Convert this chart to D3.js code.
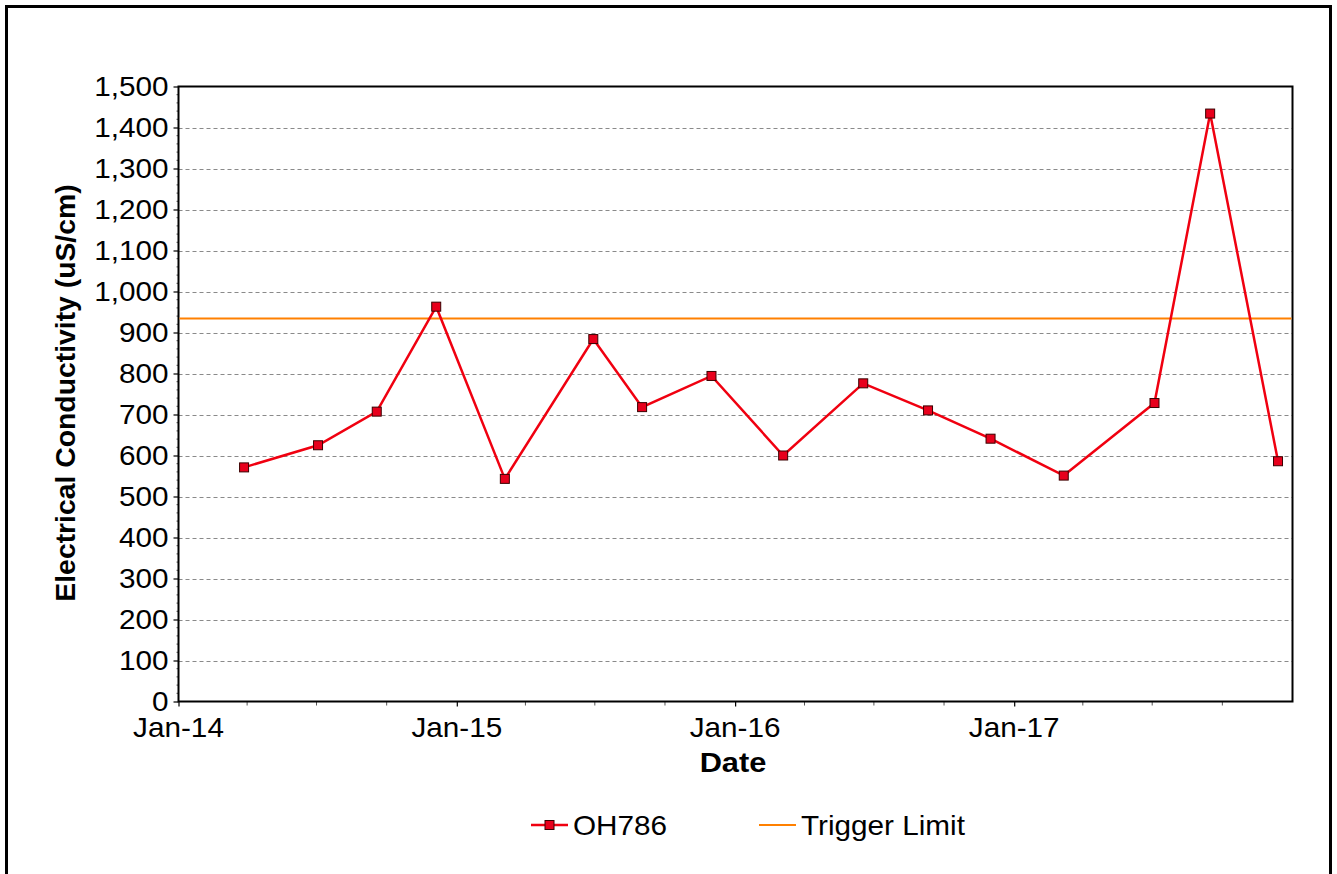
<!DOCTYPE html>
<html>
<head>
<meta charset="utf-8">
<script src="https://cdn.jsdelivr.net/npm/d3@7"></script>
<style>
  html, body { margin: 0; padding: 0; background: #fff; }
  svg { display: block; font-family: "Liberation Sans", Arial, sans-serif; }
</style>
</head>
<body>
<svg id="chart" width="1337" height="874"></svg>
<script>
// Sampling dates and electrical conductivity readings for bore OH786
const sampleDates = [
  "2014-03-28", "2014-07-03", "2014-09-18", "2014-12-05",
  "2015-03-05", "2015-06-29", "2015-09-01", "2015-12-01",
  "2016-03-04", "2016-06-17", "2016-09-10", "2016-12-01",
  "2017-03-07", "2017-07-04", "2017-09-15", "2017-12-13"
];
const conductivity = [571, 625, 707, 963, 543, 884, 718, 794, 600, 776, 710, 641, 551, 728, 1434, 586];
const triggerLimit = 934;

const yTicks = [0, 100, 200, 300, 400, 500, 600, 700, 800, 900, 1000, 1100, 1200, 1300, 1400, 1500];
const xTickLabels = ["Jan-14", "Jan-15", "Jan-16", "Jan-17"];
const seriesNames = ["OH786", "Trigger Limit"];

const parse = d3.timeParse("%Y-%m-%d");
const points = sampleDates.map((d, i) => ({ date: parse(d), value: conductivity[i] }));

const svg = d3.select("#chart");
const plot = { left: 178.5, right: 1292.5, top: 86.5, bottom: 701.5 };
const FS = 27;      // tick / legend font size
const SX = 1.1;     // horizontal stretch applied to text glyphs

// Outer frame
svg.append("rect")
  .attr("x", 6.5).attr("y", 6.5)
  .attr("width", 1324).attr("height", 880)
  .attr("fill", "none").attr("stroke", "#000").attr("stroke-width", 3);

const x = d3.scaleTime()
  .domain([new Date(2014, 0, 1), new Date(2018, 0, 1)])
  .range([plot.left, plot.right]);
const y = d3.scaleLinear().domain([0, 1500]).range([plot.bottom, plot.top]);

// Places a horizontally stretched text with its anchor at (px, py)
function stretchedText(parent, px, py, str, anchor, opts = {}) {
  const g = parent.append("g").attr("transform", `translate(${px},${py}) scale(${SX},1)`);
  const t = g.append("text")
    .attr("x", 0).attr("y", 0)
    .attr("text-anchor", anchor)
    .attr("font-size", opts.size || FS)
    .attr("font-weight", opts.weight || "normal")
    .attr("fill", "#000")
    .text(str);
  return t;
}

// Dashed horizontal gridlines
svg.append("g")
  .selectAll("line")
  .data(yTicks.filter(v => v > 0 && v < 1500))
  .join("line")
  .attr("x1", plot.left).attr("x2", plot.right)
  .attr("y1", d => Math.round(y(d)) + 0.5).attr("y2", d => Math.round(y(d)) + 0.5)
  .attr("stroke", "#8a8a8a").attr("stroke-width", 1.2)
  .attr("stroke-dasharray", "4,3");

// Y axis: minor ticks every 20, major ticks with labels every 100
const minorY = d3.range(0, 1501, 20).filter(v => v % 100 !== 0);
svg.append("g")
  .selectAll("line")
  .data(minorY)
  .join("line")
  .attr("x1", plot.left - 2).attr("x2", plot.left)
  .attr("y1", d => y(d)).attr("y2", d => y(d))
  .attr("stroke", "#555").attr("stroke-width", 1);

const yAxis = d3.axisLeft(y).tickValues(yTicks).tickSize(5).tickFormat("");
const gy = svg.append("g").attr("transform", `translate(${plot.left},0)`).call(yAxis);
gy.select(".domain").remove();
gy.selectAll(".tick line").attr("stroke", "#000").attr("stroke-width", 1.2);
const fmt = d3.format(",");
const gyl = svg.append("g");
yTicks.forEach(v => stretchedText(gyl, plot.left - 10, y(v) + 9.5, fmt(v), "end"));

// X axis: quarterly minor ticks, yearly labelled ticks
const minorX = d3.timeMonth.every(3).range(new Date(2014, 0, 1), new Date(2018, 0, 2))
  .filter(d => d.getMonth() !== 0);
svg.append("g")
  .selectAll("line")
  .data(minorX)
  .join("line")
  .attr("x1", d => x(d)).attr("x2", d => x(d))
  .attr("y1", plot.bottom).attr("y2", plot.bottom + 4)
  .attr("stroke", "#555").attr("stroke-width", 1);

const yearTicks = xTickLabels.map((_, i) => new Date(2014 + i, 0, 1));
const xAxis = d3.axisBottom(x).tickValues(yearTicks).tickSize(5).tickFormat("");
const gx = svg.append("g").attr("transform", `translate(0,${plot.bottom})`).call(xAxis);
gx.select(".domain").remove();
gx.selectAll(".tick line").attr("stroke", "#000").attr("stroke-width", 1.2);
const gxl = svg.append("g");
yearTicks.forEach((d, i) => stretchedText(gxl, x(d), 737, xTickLabels[i], "middle"));

// Plot area border
svg.append("rect")
  .attr("x", plot.left).attr("y", plot.top)
  .attr("width", plot.right - plot.left).attr("height", plot.bottom - plot.top)
  .attr("fill", "none").attr("stroke", "#000").attr("stroke-width", 2);

// Trigger limit line
svg.append("line")
  .attr("x1", plot.left + 1).attr("x2", plot.right - 1)
  .attr("y1", y(triggerLimit)).attr("y2", y(triggerLimit))
  .attr("stroke", "#ff8000").attr("stroke-width", 2);

// Conductivity series
const line = d3.line().x(d => x(d.date)).y(d => y(d.value));
svg.append("path")
  .datum(points)
  .attr("d", line)
  .attr("fill", "none")
  .attr("stroke", "#f00010").attr("stroke-width", 2.5)
  .attr("stroke-linejoin", "miter");

const ms = 9;
svg.append("g")
  .selectAll("rect")
  .data(points)
  .join("rect")
  .attr("x", d => x(d.date) - ms / 2)
  .attr("y", d => y(d.value) - ms / 2)
  .attr("width", ms).attr("height", ms)
  .attr("fill", "#e8001c").attr("stroke", "#3a0000").attr("stroke-width", 1);

// Axis titles
svg.append("text")
  .attr("transform", `translate(75,${(plot.top + plot.bottom) / 2 - 1}) rotate(-90) scale(1.05,1)`)
  .attr("text-anchor", "middle")
  .attr("font-size", FS).attr("font-weight", "bold").attr("fill", "#000")
  .text("Electrical Conductivity (uS/cm)");

stretchedText(svg, 733, 772, "Date", "middle", { weight: "bold", size: 28 });

// Legend
const legY = 825;
const leg = svg.append("g");
leg.append("line")
  .attr("x1", 531).attr("x2", 568).attr("y1", legY).attr("y2", legY)
  .attr("stroke", "#f00010").attr("stroke-width", 2.5);
leg.append("rect")
  .attr("x", 549.5 - ms / 2).attr("y", legY - ms / 2)
  .attr("width", ms).attr("height", ms)
  .attr("fill", "#e8001c").attr("stroke", "#3a0000").attr("stroke-width", 1);
stretchedText(leg, 573, legY + 10, seriesNames[0], "start");
leg.append("line")
  .attr("x1", 759).attr("x2", 796).attr("y1", legY).attr("y2", legY)
  .attr("stroke", "#ff8000").attr("stroke-width", 2);
stretchedText(leg, 801, legY + 10, seriesNames[1], "start");
</script>
</body>
</html>
